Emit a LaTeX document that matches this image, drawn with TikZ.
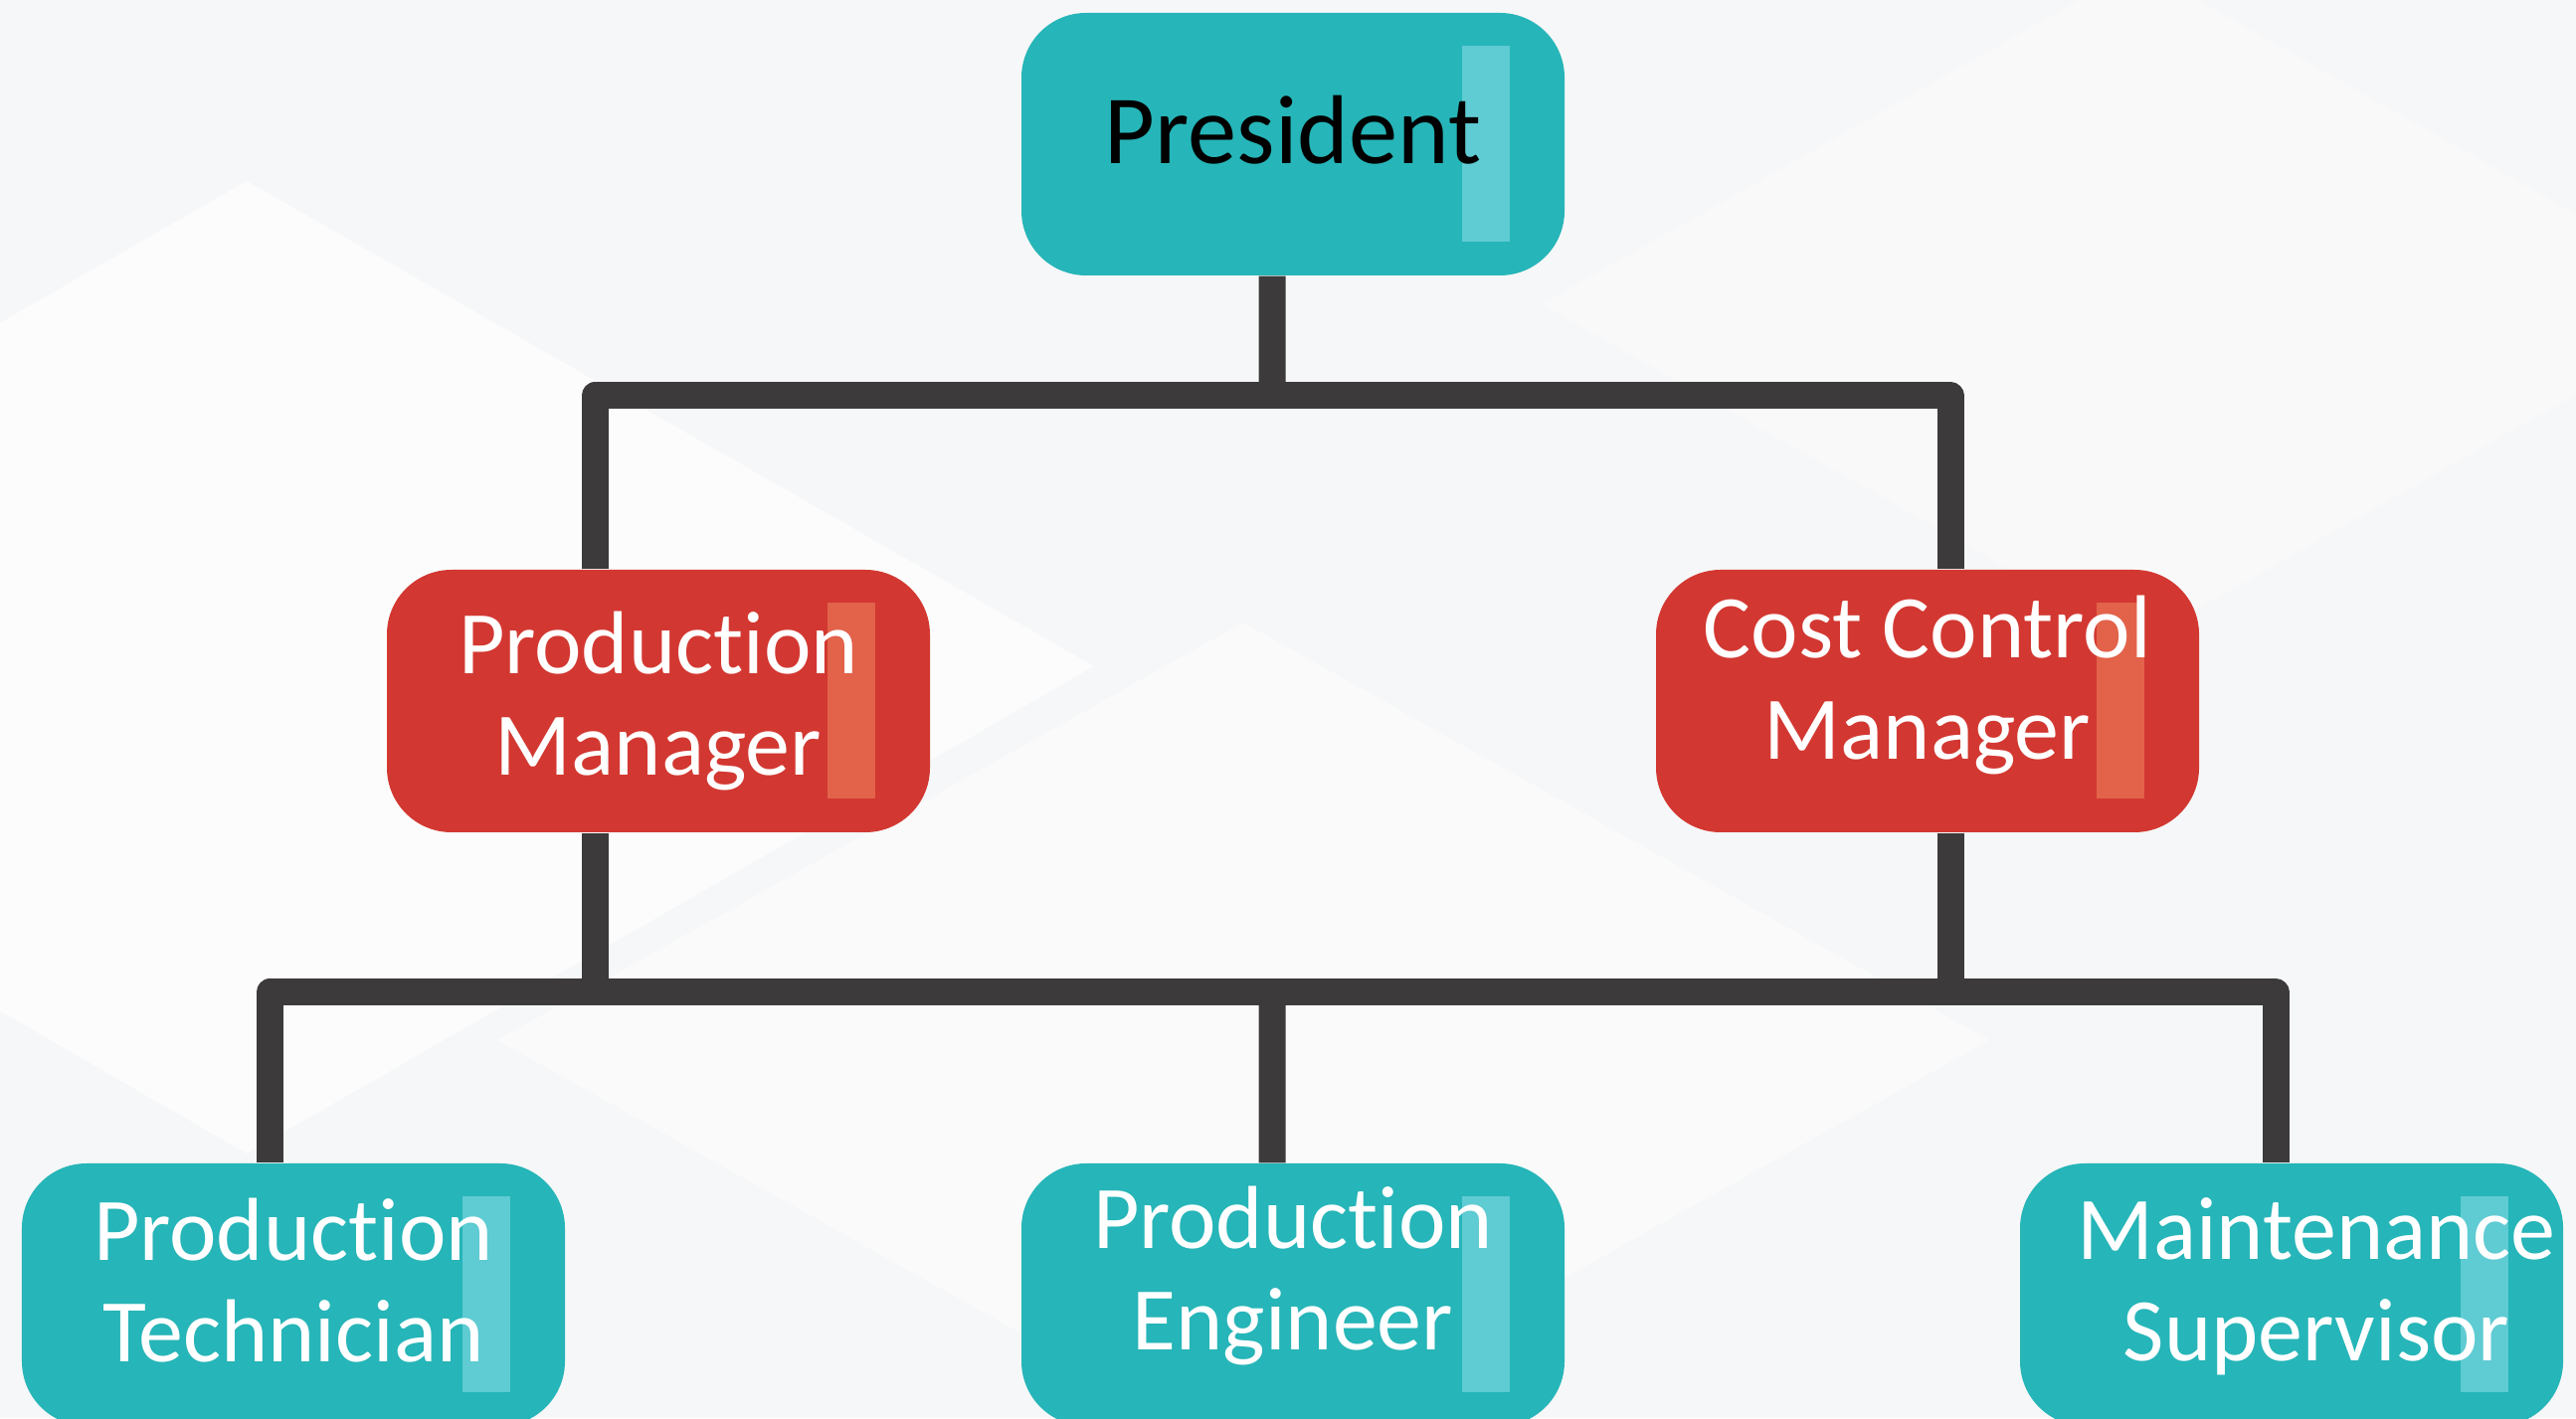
\documentclass[tikz,border=0pt]{standalone}
\usepackage{fontspec}
\setmainfont{Carlito}[Ligatures={NoCommon,NoRequired}]
\usepackage{xcolor}

\definecolor{orgteal}{HTML}{26B5B8}
\definecolor{orgteallt}{HTML}{5FCBD3}
\definecolor{orgred}{HTML}{D23831}
\definecolor{orgredlt}{HTML}{E2624A}
\definecolor{linkgray}{HTML}{3C3A3B}
\definecolor{bggray}{HTML}{F6F7F8}
\definecolor{bgwhite}{HTML}{FCFCFC}

\begin{document}
\begin{tikzpicture}[x=1cm,y=1cm,
  post/.style={rounded corners=6.5mm,minimum width=5.46cm,minimum height=2.64cm,
    inner sep=0pt,align=center,text=white,font=\fontsize{25.6}{29}\selectfont},
  cyanpost/.style={post,fill=orgteal,path picture={\fill[orgteallt,sharp corners]
    ([shift={(-1.03,-0.98)}]path picture bounding box.east) rectangle
    ([shift={(-0.55,0.99)}]path picture bounding box.east);}},
  redpost/.style={post,fill=orgred,path picture={\fill[orgredlt,sharp corners]
    ([shift={(-1.03,-0.98)}]path picture bounding box.east) rectangle
    ([shift={(-0.55,0.99)}]path picture bounding box.east);}},
  link/.style={draw=linkgray,line width=0.27cm,line join=round}]

  % background
  \useasboundingbox (0,0) rectangle (25.9,14.26);
  \begin{scope}
    \clip (0,0) rectangle (25.9,14.26);
    \fill[bggray] (0,0) rectangle (25.9,14.26);
    \fill[bgwhite] (2.48,12.44) -- (11.0,7.56) -- (2.48,2.66) -- (-6,7.56) -- cycle;
    \fill[bgwhite!50!bggray] (21.5,14.6) -- (27.5,11.2) -- (21.5,7.8) -- (15.5,11.2) -- cycle;
    \fill[bgwhite!60!bggray] (12.5,8.0) -- (20.0,3.8) -- (12.5,-0.4) -- (5.0,3.8) -- cycle;
  \end{scope}

  % boxes
  \node[cyanpost,text=black,font=\fontsize{28}{32}\selectfont,text depth=0.3cm] (pres) at (13.00,12.81) {President};
  \node[redpost]                   (pm)   at (6.62,7.21)  {Production\\Manager};
  \node[redpost,text depth=0.48cm] (ccm)  at (19.38,7.21) {Cost Control\\Manager};
  \node[cyanpost,text depth=0.3cm] (tech) at (2.95,1.24)  {Production\\Technician};
  \node[cyanpost,text depth=0.54cm] (eng) at (13.00,1.24) {Production\\Engineer};
  \node[cyanpost,text depth=0.3cm] (supv) at (23.04,1.24) {\hspace*{5mm}Maintenance\\\hspace*{5mm}Supervisor};

  \coordinate (bus1) at (12.79,10.28);
  \coordinate (bus2) at (12.79,4.28);

  % connectors
  \draw[link] ([xshift=-2.1mm]pres.south) -- (bus1);
  \draw[link] ([xshift=-6.4mm]pm.north) |- (bus1) -| ([xshift=2.3mm]ccm.north);
  \draw[link] ([xshift=-6.4mm]pm.south) -- ([xshift=-6.4mm]pm.south |- bus2);
  \draw[link] ([xshift=2.3mm]ccm.south) -- ([xshift=2.3mm]ccm.south |- bus2);
  \draw[link] ([xshift=-2.4mm]tech.north) |- (bus2) -| ([xshift=-1.6mm]supv.north);
  \draw[link] ([xshift=-2.1mm]eng.north) -- (bus2);
\end{tikzpicture}
\end{document}
